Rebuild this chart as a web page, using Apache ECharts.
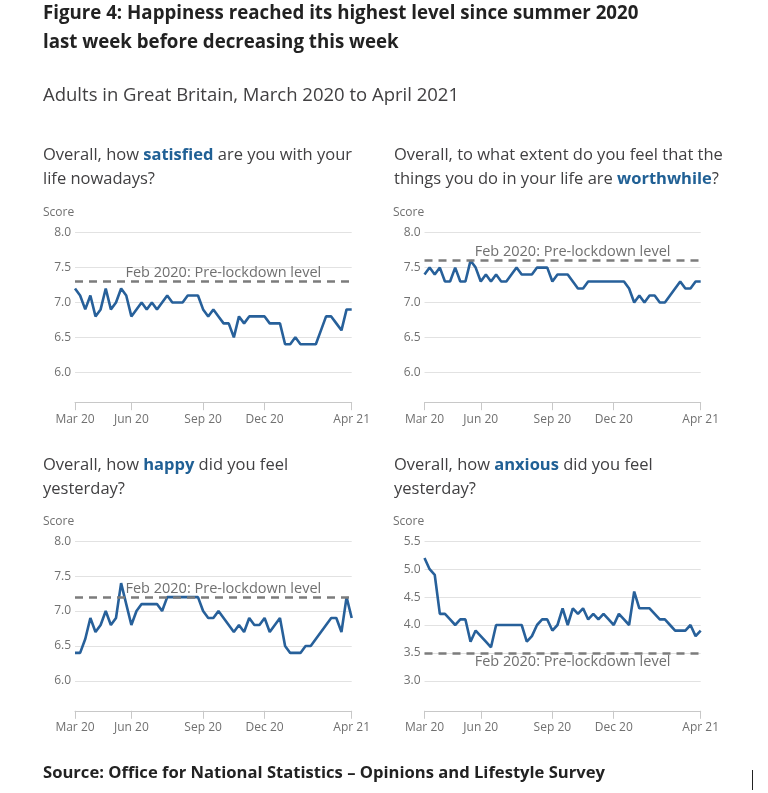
<!DOCTYPE html>
<html><head><meta charset="utf-8">
<script src="https://cdn.jsdelivr.net/npm/echarts@6/dist/echarts.min.js"></script>
<style>html,body{margin:0;padding:0;background:#fff}#c{width:768px;height:793px}</style>
</head><body><div id="c"></div>
<script>
// ---- data (one value per survey period) ----
const satisfied = [7.2,7.1,6.9,7.1,6.8,6.9,7.2,6.9,7.0,7.2,
  7.1,6.8,6.9,7.0,6.9,7.0,6.9,7.0,7.1,7.0,
  7.0,7.0,7.1,7.1,7.1,6.9,6.8,6.9,6.8,6.7,
  6.7,6.5,6.8,6.7,6.8,6.8,6.8,6.8,6.7,6.7,
  6.7,6.4,6.4,6.5,6.4,6.4,6.4,6.4,6.6,6.8,
  6.8,6.7,6.6,6.9,6.9];
const worthwhile = [7.4,7.5,7.4,7.5,7.3,7.3,7.5,7.3,7.3,7.6,
  7.5,7.3,7.4,7.3,7.4,7.3,7.3,7.4,7.5,7.4,
  7.4,7.4,7.5,7.5,7.5,7.3,7.4,7.4,7.4,7.3,
  7.2,7.2,7.3,7.3,7.3,7.3,7.3,7.3,7.3,7.3,
  7.2,7.0,7.1,7.0,7.1,7.1,7.0,7.0,7.1,7.2,
  7.3,7.2,7.2,7.3,7.3];
const happy = [6.4,6.4,6.6,6.9,6.7,6.8,7.0,6.8,6.9,7.4,
  7.1,6.8,7.0,7.1,7.1,7.1,7.1,7.0,7.2,7.2,
  7.2,7.2,7.2,7.2,7.2,7.0,6.9,6.9,7.0,6.9,
  6.8,6.7,6.8,6.7,6.9,6.8,6.8,6.9,6.7,6.8,
  6.9,6.5,6.4,6.4,6.4,6.5,6.5,6.6,6.7,6.8,
  6.9,6.9,6.7,7.2,6.9];
const anxious = [5.2,5.0,4.9,4.2,4.2,4.1,4.0,4.1,4.1,3.7,
  3.9,3.8,3.7,3.6,4.0,4.0,4.0,4.0,4.0,4.0,
  3.7,3.8,4.0,4.1,4.1,3.9,4.0,4.3,4.0,4.3,
  4.2,4.3,4.1,4.2,4.1,4.2,4.1,4.0,4.2,4.1,
  4.0,4.6,4.3,4.3,4.3,4.2,4.1,4.1,4.0,3.9,
  3.9,3.9,4.0,3.8,3.9];
const preLockdown = [7.3, 7.6, 7.2, 3.5];
const tickIndex = [0, 11, 25, 37, 54];
const tickLabels = ['Mar 20', 'Jun 20', 'Sep 20', 'Dec 20', 'Apr 21'];
const categories = satisfied.map((_, i) => String(i));
const refLabel = 'Feb 2020: Pre-lockdown level';

// ---- layout ----
const FONT = '"Open Sans", sans-serif';
const panels = [
  {data: satisfied, left: 75, top: 232.7, width: 276.7, min: 6, max: 8, refPos: 'insideMiddleTop'},
  {data: worthwhile, left: 424.5, top: 232.7, width: 276.2, min: 6, max: 8, refPos: 'insideMiddleTop'},
  {data: happy, left: 75, top: 541.3, width: 276.7, min: 6, max: 8, refPos: 'insideMiddleTop'},
  {data: anxious, left: 424.5, top: 541.3, width: 276.2, min: 3, max: 5.5, refPos: 'insideMiddleBottom'}
];
const GRID_H = 139.5;

const grid = [], xAxis = [], yAxis = [], series = [];
panels.forEach((p, k) => {
  grid.push({left: p.left, top: p.top, width: p.width, height: GRID_H, containLabel: false});
  xAxis.push({
    type: 'category', gridIndex: k, data: categories, boundaryGap: false, offset: 30,
    axisLine: {lineStyle: {color: '#c8c8c8', width: 1}},
    axisTick: {show: true, length: 8, lineStyle: {color: '#c8c8c8'},
      interval: (i) => tickIndex.includes(i)},
    axisLabel: {interval: (i) => tickIndex.includes(i),
      formatter: (v, i) => tickLabels[tickIndex.indexOf(Number(v))] || '',
      color: '#707070', fontFamily: FONT, fontSize: 12, margin: 11, hideOverlap: false},
    splitLine: {show: false}
  });
  yAxis.push({
    type: 'value', gridIndex: k, min: p.min, max: p.max, interval: 0.5,
    axisLine: {show: false}, axisTick: {show: false},
    axisLabel: {formatter: (v) => v.toFixed(1), color: '#707070', fontFamily: FONT, fontSize: 12, margin: 4},
    splitLine: {lineStyle: {color: '#e2e2e2', width: 1}}
  });
  series.push({
    type: 'line', xAxisIndex: k, yAxisIndex: k, data: [], z: 1, silent: true,
    markLine: {
      silent: true, symbol: 'none', animation: false,
      lineStyle: {type: [8, 6], color: '#7c7c7c', width: 2.5},
      label: {show: true, position: p.refPos, formatter: refLabel, distance: 1,
        color: '#707070', fontFamily: FONT, fontSize: 14.5, padding: [0, 0, 0, 20]},
      emphasis: {disabled: true},
      data: [{yAxis: preLockdown[k]}]
    }
  });
  series.push({
    type: 'line', xAxisIndex: k, yAxisIndex: k, data: p.data, z: 3,
    symbol: 'none', silent: true,
    lineStyle: {color: '#27609a', width: 2.6}
  });
});

function txt(x, y, text, size, color, weight, rich) {
  return {type: 'text', x: x, y: y, silent: true, style: {
    text: text, fontFamily: FONT, fontSize: size, fontWeight: weight || 'normal',
    fill: color, textAlign: 'left', align: 'left', textVerticalAlign: 'middle', verticalAlign: 'middle',
    rich: rich || undefined}};
}
const QS = 16.5;
const hl = {b: {fontFamily: FONT, fontSize: QS, fontWeight: 'bold', fill: '#206095'}};
const Q = '#414042';
const graphic = [
  txt(43, 14, 'Figure 4: Happiness reached its highest level since summer 2020', 18.7, '#222222', 'bold'),
  txt(43, 42.5, 'last week before decreasing this week', 18.7, '#222222', 'bold'),
  txt(43, 96, 'Adults in Great Britain, March 2020 to April 2021', 18.5, '#414042'),
  txt(43, 155.4, 'Overall, how {b|satisfied} are you with your', QS, Q, 'normal', hl),
  txt(43, 179, 'life nowadays?', QS, Q),
  txt(394, 155.4, 'Overall, to what extent do you feel that the', QS, Q),
  txt(394, 179, 'things you do in your life are {b|worthwhile}?', QS, Q, 'normal', hl),
  txt(43, 465.4, 'Overall, how {b|happy} did you feel', QS, Q, 'normal', hl),
  txt(43, 489, 'yesterday?', QS, Q),
  txt(394, 465.4, 'Overall, how {b|anxious} did you feel', QS, Q, 'normal', hl),
  txt(394, 489, 'yesterday?', QS, Q),
  txt(43, 212.7, 'Score', 12, '#707070'),
  txt(393, 212.7, 'Score', 12, '#707070'),
  txt(43, 521.7, 'Score', 12, '#707070'),
  txt(393, 521.7, 'Score', 12, '#707070'),
  txt(43, 773, 'Source: Office for National Statistics \u2013 Opinions and Lifestyle Survey', 16.6, '#222222', 'bold'),
  {type: 'line', silent: true, shape: {x1: 752.5, y1: 770, x2: 752.5, y2: 790}, style: {stroke: '#222', lineWidth: 1}}
];

const chart = echarts.init(document.getElementById('c'), null, {renderer: 'canvas'});
chart.setOption({animation: false, backgroundColor: '#ffffff', grid, xAxis, yAxis, series, graphic});
</script></body></html>
